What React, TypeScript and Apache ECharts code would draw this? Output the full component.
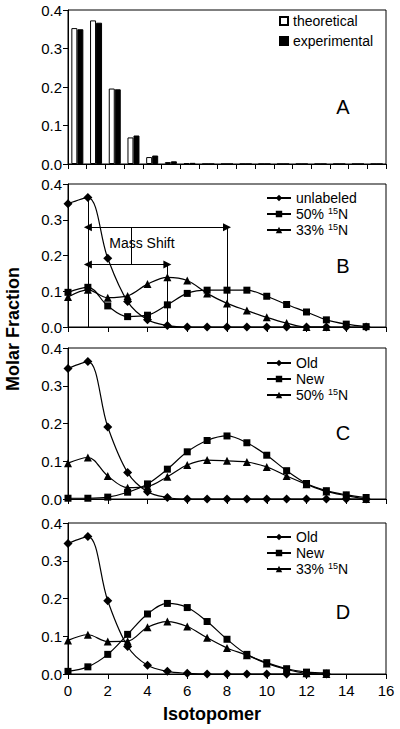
import React, { useEffect, useRef } from "react";
import * as echarts from "echarts";

const FONT = "'Liberation Sans', Arial, Helvetica, sans-serif";

// Panel A
const isotopomersA = ["0","1","2","3","4","5","6","7","8","9","10","11","12","13","14","15","16"];
const theoretical = [0.353, 0.373, 0.196, 0.069, 0.018, 0.005, 0.002, 0, 0, 0, 0, 0, 0, 0, 0, 0, 0];
const experimental = [0.350, 0.367, 0.194, 0.074, 0.022, 0.007, 0.003, 0, 0, 0, 0, 0, 0, 0, 0, 0, 0];

// Panel B
const unlabeledB = [0.345, 0.362, 0.192, 0.071, 0.020, 0.004, 0, 0, 0, 0, 0, 0, 0, 0, 0, 0];
const n50B = [0.097, 0.111, 0.059, 0.029, 0.033, 0.062, 0.094, 0.103, 0.103, 0.103, 0.086, 0.063, 0.042, 0.020, 0.008, 0.001];
const n33B = [0.084, 0.104, 0.082, 0.087, 0.120, 0.139, 0.130, 0.094, 0.066, 0.046, 0.027, 0.011, 0, 0];

// Panel C
const oldC = [0.346, 0.364, 0.191, 0.070, 0.019, 0.004, 0, 0, 0, 0, 0, 0, 0, 0, 0, 0];
const newC = [0.002, 0.002, 0.005, 0.018, 0.040, 0.079, 0.125, 0.155, 0.167, 0.149, 0.116, 0.075, 0.041, 0.022, 0.011, 0.004];
const n50C = [0.095, 0.110, 0.061, 0.030, 0.033, 0.059, 0.090, 0.103, 0.101, 0.098, 0.085, 0.061, 0.039, 0.020, 0.009, 0.0];

// Panel D
const oldD = [0.346, 0.364, 0.194, 0.073, 0.023, 0.007, 0.002, 0, 0, 0, 0, 0, 0, 0];
const newD = [0.007, 0.019, 0.052, 0.105, 0.159, 0.187, 0.176, 0.139, 0.092, 0.052, 0.030, 0.014, 0.005, 0.003];
const n33D = [0.089, 0.104, 0.086, 0.087, 0.124, 0.139, 0.126, 0.096, 0.069, 0.050, 0.028, 0.012, 0.002, 0];

// Annotations in panel B (data coordinates)
const shiftUpperY = 0.279;
const shiftLowerY = 0.175;
const shiftStartX = 1;
const shift50X = 8;
const shift33X = 5;
const shiftConnectorX = 3.17;
const massShiftLabel = [3.72, 0.234];

const yTicks = { min: 0, max: 0.4, interval: 0.1 };
const xRange = { min: 0, max: 16, interval: 2 };

const legendLabels: Record<string, string> = {
  theoretical: "theoretical",
  experimental: "experimental",
  unlabeled: "unlabeled",
  B50: "50% {sup|15}N",
  B33: "33% {sup|15}N",
  COld: "Old",
  CNew: "New",
  C50: "50% {sup|15}N",
  DOld: "Old",
  DNew: "New",
  D33: "33% {sup|15}N",
};

const pts = (ys: number[]) => ys.map((y, i) => [i, y]);

export default function App() {
  const ref = useRef<HTMLDivElement>(null);
  useEffect(() => {
    if (!ref.current) return;
    const chart = echarts.init(ref.current, null, { renderer: "svg" });

    const left = 68;
    const width = 318;
    const grids = [
      { left, width, top: 10, height: 154 },
      { left, width, top: 184, height: 143 },
      { left, width, top: 348, height: 151 },
      { left, width, top: 523, height: 151 },
    ].map((g) => ({ ...g, show: true, borderColor: "#000", borderWidth: 1, backgroundColor: "#fff" }));

    const axisLine = { show: true, lineStyle: { color: "#000", width: 1 } };
    const yAxes = [0, 1, 2, 3].map((i) => ({
      type: "value",
      gridIndex: i,
      ...yTicks,
      axisLine,
      axisTick: { show: true, length: 5, lineStyle: { color: "#000" } },
      axisLabel: { color: "#000", fontSize: 15, fontFamily: FONT, margin: 6, formatter: (v: number) => v.toFixed(1) },
      splitLine: { show: false },
    }));
    const xAxes: any[] = [
      {
        type: "category",
        gridIndex: 0,
        data: isotopomersA,
        boundaryGap: true,
        axisLine,
        axisTick: { show: true, length: 5, interval: 0, lineStyle: { color: "#000" } },
        axisLabel: { show: false },
      },
      ...[1, 2, 3].map((i) => ({
        type: "value",
        gridIndex: i,
        ...xRange,
        axisLine,
        axisTick: { show: true, length: 5, lineStyle: { color: "#000" } },
        axisLabel: { show: i === 3, color: "#000", fontSize: 15, fontFamily: FONT, margin: 9 },
        splitLine: { show: false },
      })),
    ];

    const line = (name: string, ys: number[], idx: number, symbol: string, size: number, extra: any = {}) => ({
      type: "line",
      name,
      xAxisIndex: idx,
      yAxisIndex: idx,
      data: pts(ys),
      symbol,
      symbolSize: size,
      smooth: 0.35,
      lineStyle: { color: "#000", width: 1.2 },
      itemStyle: { color: "#000" },
      emphasis: { disabled: true },
      ...extra,
    });

    const arrowEnd = { symbol: "triangle", symbolSize: [8, 8] };
    const markLine = {
      silent: true,
      symbol: ["none", "none"],
      label: { show: false },
      lineStyle: { color: "#000", width: 1, type: "solid" },
      emphasis: { disabled: true },
      data: [
        [{ coord: [shiftStartX, unlabeledB[shiftStartX]] }, { coord: [shiftStartX, 0] }],
        [{ coord: [shift33X, shiftLowerY] }, { coord: [shift33X, 0] }],
        [{ coord: [shift50X, shiftUpperY] }, { coord: [shift50X, 0] }],
        [{ coord: [shiftStartX, shiftUpperY], ...arrowEnd }, { coord: [shift50X, shiftUpperY], ...arrowEnd }],
        [{ coord: [shiftStartX, shiftLowerY], ...arrowEnd }, { coord: [shift33X, shiftLowerY], ...arrowEnd }],
        [{ coord: [shiftConnectorX, shiftUpperY] }, { coord: [shiftConnectorX, shiftLowerY] }],
      ],
    };
    const markPoint = {
      silent: true,
      symbol: "rect",
      symbolSize: 0,
      label: { show: true, position: "inside", formatter: "Mass Shift", color: "#000", fontSize: 14, fontFamily: FONT },
      data: [{ coord: massShiftLabel, value: 0 }],
    };

    const series: any[] = [
      {
        type: "bar",
        name: "theoretical",
        xAxisIndex: 0,
        yAxisIndex: 0,
        data: theoretical,
        barWidth: 6,
        barGap: "0%",
        itemStyle: { color: "#fff", borderColor: "#000", borderWidth: 1 },
        emphasis: { disabled: true },
      },
      {
        type: "bar",
        name: "experimental",
        xAxisIndex: 0,
        yAxisIndex: 0,
        data: experimental,
        barWidth: 6,
        barGap: "0%",
        itemStyle: { color: "#000", borderColor: "#000", borderWidth: 1 },
        emphasis: { disabled: true },
      },
      line("unlabeled", unlabeledB, 1, "diamond", 9, { markLine, markPoint }),
      line("B50", n50B, 1, "rect", 7),
      line("B33", n33B, 1, "triangle", 8),
      line("COld", oldC, 2, "diamond", 9),
      line("CNew", newC, 2, "rect", 7),
      line("C50", n50C, 2, "triangle", 8),
      line("DOld", oldD, 3, "diamond", 9),
      line("DNew", newD, 3, "rect", 7),
      line("D33", n33D, 3, "triangle", 8),
    ];

    const legendText = {
      color: "#000",
      fontSize: 14,
      fontFamily: FONT,
      lineHeight: 16,
      rich: { sup: { fontSize: 9, lineHeight: 10, verticalAlign: "top", fontFamily: FONT, color: "#000" } },
    };
    const mkLegend = (data: any[], top: number, leftPos: number, itemWidth: number, itemHeight: number, gap: number, icon?: string) => ({
      orient: "vertical",
      left: leftPos,
      top,
      itemWidth,
      itemHeight,
      itemGap: gap,
      padding: 0,
      selectedMode: false,
      ...(icon ? { icon } : {}),
      data,
      formatter: (n: string) => legendLabels[n],
      textStyle: legendText,
    });

    const legends = [
      mkLegend(["theoretical", "experimental"], 13, 279, 8, 8, 4, "rect"),
      mkLegend(["unlabeled", "B50", "B33"], 190, 266, 24, 8, 0),
      mkLegend(["COld", "CNew", "C50"], 355, 266, 24, 8, 0),
      mkLegend(["DOld", "DNew", "D33"], 529, 266, 24, 8, 0),
    ];

    const letter = (t: string, y: number) => ({
      type: "text",
      x: 343,
      y,
      style: { text: t, fill: "#000", font: `20px ${FONT}`, textAlign: "center", textVerticalAlign: "middle" },
    });

    chart.setOption({
      animation: false,
      backgroundColor: "#fff",
      grid: grids,
      xAxis: xAxes,
      yAxis: yAxes,
      legend: legends,
      series,
      graphic: [
        letter("A", 107),
        letter("B", 266),
        letter("C", 433),
        letter("D", 612),
        {
          type: "text",
          x: 13,
          y: 329,
          rotation: Math.PI / 2,
          style: { text: "Molar Fraction", fill: "#000", font: `bold 18px ${FONT}`, textAlign: "center", textVerticalAlign: "middle" },
        },
        {
          type: "text",
          x: 212,
          y: 714,
          style: { text: "Isotopomer", fill: "#000", font: `bold 18px ${FONT}`, textAlign: "center", textVerticalAlign: "middle" },
        },
      ],
    });
    return () => chart.dispose();
  }, []);
  return <div ref={ref} style={{ position: "absolute", left: 0, top: 0, width: 400, height: 729 }} />;
}
